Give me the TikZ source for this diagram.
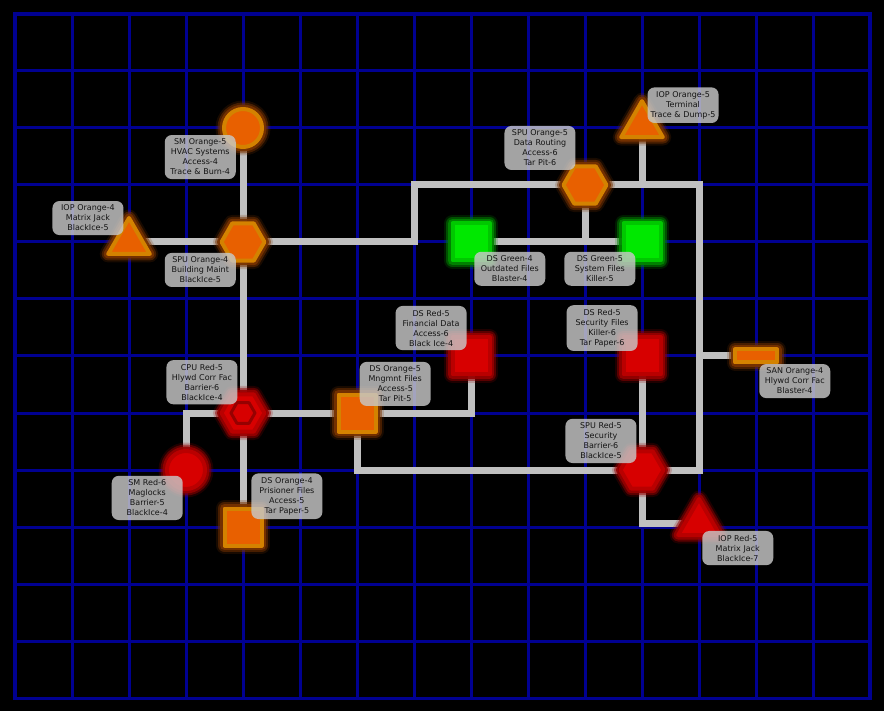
\documentclass[tikz,border=0pt]{standalone}
\usepackage{fontspec}
\setmainfont{DejaVu Sans}
\usetikzlibrary{shapes.geometric,backgrounds,positioning}

\definecolor{gridblue}{RGB}{0,0,145}
\definecolor{wiregray}{RGB}{192,192,192}
\definecolor{orgcore}{RGB}{232,96,0}
\definecolor{orgring}{RGB}{212,130,0}
\definecolor{orgglow}{RGB}{120,50,0}
\definecolor{redcore}{RGB}{215,0,0}
\definecolor{redring}{RGB}{185,0,0}
\definecolor{redglow}{RGB}{150,0,0}
\definecolor{grncore}{RGB}{0,232,0}
\definecolor{grnring}{RGB}{0,200,0}
\definecolor{grnglow}{RGB}{0,135,0}
\definecolor{infobg}{RGB}{200,200,200}
\definecolor{infotext}{RGB}{20,20,20}

\tikzset{
    gridline/.style={
        draw=gridblue,
        line width=3pt
    },
    link/.style={
        draw=wiregray,
        line width=7pt,
        line join=miter
    },
    glow/.style n args={3}{
        fill=#1,
        draw=#2,
        line width=4pt,
        line join=round,
        preaction={draw=#3, line width=17pt, line join=round, draw opacity=0.2},
        preaction={draw=#3, line width=13pt, line join=round, draw opacity=0.5},
        preaction={draw=#3, line width=9pt, line join=round, draw opacity=0.9}
    },
    secorange/.style={glow={orgcore}{orgring}{orgglow}},
    secred/.style={glow={redcore}{redring}{redglow}},
    secgreen/.style={glow={grncore}{grnring}{grnglow}},
    sm/.style={
        circle,
        minimum size=38pt,
        inner sep=0pt
    },
    ds/.style={
        rectangle,
        minimum size=37pt,
        inner sep=0pt
    },
    san/.style={
        rectangle,
        minimum width=42pt,
        minimum height=13pt,
        inner sep=0pt
    },
    spu/.style={
        regular polygon,
        regular polygon sides=6,
        minimum size=43pt,
        inner sep=0pt
    },
    iop/.style={
        regular polygon,
        regular polygon sides=3,
        minimum size=48pt,
        inner sep=0pt
    },
    cpu/.style={
        spu,
        path picture={
            \node[regular polygon, regular polygon sides=6, minimum size=24pt, inner sep=0pt,
                fill=redcore, draw=redglow, line width=3pt] at (path picture bounding box.center) {};
        }
    },
    info/.style={
        fill=infobg,
        fill opacity=0.82,
        text opacity=1,
        text=infotext,
        rounded corners=7pt,
        text width=67pt,
        inner xsep=2pt,
        inner ysep=4pt,
        align=center,
        font=\fontsize{8}{10}\selectfont
    },
}

\begin{document}
\begin{tikzpicture}[x=57pt, y=-57pt]
    \useasboundingbox (-15pt,14pt) rectangle (869pt,-697pt);

    \node[sm, secorange] (smHvac) at (4,2) {};
    \node[spu, secorange] (spuMaint) at (4,4) {};
    \node[iop, secorange] (iopJack) at (2,4) {};
    \node[spu, secorange] (spuRouting) at (10,3) {};
    \node[iop, secorange] (iopTerminal) at (11,1.95) {};
    \node[ds, secgreen] (dsOutdated) at (8,4) {};
    \node[ds, secgreen] (dsSystem) at (11,4) {};
    \node[ds, secred] (dsFinancial) at (8,6) {};
    \node[ds, secred] (dsSecurity) at (11,6) {};
    \node[san, secorange] (sanCorr) at (13,6) {};
    \node[cpu, secred] (cpuCorr) at (4,7) {};
    \node[ds, secorange] (dsMngmnt) at (6,7) {};
    \node[sm, secred] (smMaglocks) at (3,8) {};
    \node[ds, secorange] (dsPrisoner) at (4,9) {};
    \node[spu, secred] (spuSecurity) at (11,8) {};
    \node[iop, secred] (iopMatrix) at (12,8.93) {};

    \coordinate[] (jRise) at (7,4);
    \coordinate[] (jEast) at (12,3);

    \begin{pgfonlayer}{background}
        \fill[black] (-15pt,14pt) rectangle (869pt,-697pt);
        \draw[gridline, step=57pt] (0,0) grid (15,12);
        \draw[gridline] (0,0) rectangle (15,12);

        % upper ring
        \draw[link] (smHvac) -- (spuMaint);
        \draw[link] (iopJack) -- (spuMaint);
        \draw[link] (spuMaint) -- (jRise) |- (spuRouting);
        \draw[link] (spuRouting) -- (jEast) |- (spuSecurity);
        \draw[link] (iopTerminal) -- (iopTerminal |- jEast);
        \draw[link] (jEast |- sanCorr) -- (sanCorr);
        \draw[link] (spuRouting) -- (spuRouting |- dsOutdated);
        \draw[link] (dsOutdated) -- (dsSystem);
        % lower part
        \draw[link] (spuMaint) -- (cpuCorr) -- (dsPrisoner);
        \draw[link] (cpuCorr) -| (smMaglocks);
        \draw[link] (cpuCorr) -- (dsMngmnt);
        \draw[link] (dsMngmnt) -| (dsFinancial);
        \draw[link] (dsMngmnt) |- (spuSecurity);
        \draw[link] (dsSecurity) -- (spuSecurity);
        \draw[link] (spuSecurity) |- (iopMatrix);
    \end{pgfonlayer}

    \node[info] (smHvacInfo) at (3.25,2.51) {SM Orange-5\\HVAC Systems\\Access-4\\Trace \& Burn-4};
    \node[info] (iopJackInfo) at (1.28,3.58) {IOP Orange-4\\Matrix Jack\\BlackIce-5};
    \node[info] (spuMaintInfo) at (3.25,4.49) {SPU Orange-4\\Building Maint\\BlackIce-5};
    \node[info] (spuRoutingInfo) at (9.21,2.35) {SPU Orange-5\\Data Routing\\Access-6\\Tar Pit-6};
    \node[info] (iopTerminalInfo) at (11.72,1.60) {IOP Orange-5\\Terminal\\Trace \& Dump-5};
    \node[info] (dsOutdatedInfo) at (8.68,4.47) {DS Green-4\\Outdated Files\\Blaster-4};
    \node[info] (dsSystemInfo) at (10.26,4.47) {DS Green-5\\System Files\\Killer-5};
    \node[info] (dsFinancialInfo) at (7.30,5.51) {DS Red-5\\Financial Data\\Access-6\\Black Ice-4};
    \node[info] (dsSecurityInfo) at (10.30,5.51) {DS Red-5\\Security Files\\Killer-6\\Tar Paper-6};
    \node[info] (sanCorrInfo) at (13.68,6.44) {SAN Orange-4\\Hlywd Corr Fac\\Blaster-4};
    \node[info] (cpuCorrInfo) at (3.28,6.46) {CPU Red-5\\Hlywd Corr Fac\\Barrier-6\\BlackIce-4};
    \node[info] (dsMngmntInfo) at (6.67,6.49) {DS Orange-5\\Mngmnt Files\\Access-5\\Tar Pit-5};
    \node[info] (smMaglocksInfo) at (2.32,8.49) {SM Red-6\\Maglocks\\Barrier-5\\BlackIce-4};
    \node[info] (dsPrisonerInfo) at (4.77,8.46) {DS Orange-4\\Prisioner Files\\Access-5\\Tar Paper-5};
    \node[info] (spuSecurityInfo) at (10.28,7.49) {SPU Red-5\\Security\\Barrier-6\\BlackIce-5};
    \node[info] (iopMatrixInfo) at (12.68,9.37) {IOP Red-5\\Matrix Jack\\BlackIce-7};
\end{tikzpicture}
\end{document}
